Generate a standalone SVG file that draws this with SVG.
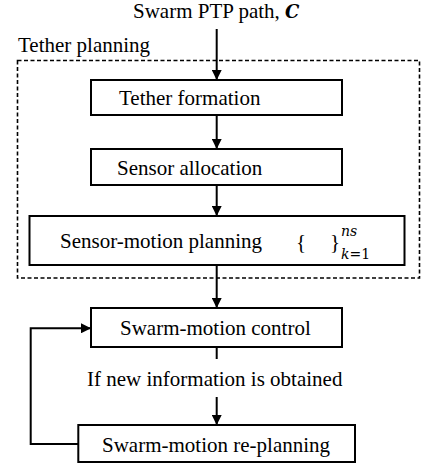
<svg xmlns="http://www.w3.org/2000/svg" width="422" height="463" viewBox="0 0 422 463" font-family="Liberation Serif, Times New Roman, serif" font-size="21">
<style>
.box{fill:#fff;stroke:#000;stroke-width:2}
.ln{fill:none;stroke:#000;stroke-width:2}
</style>
<defs>
<marker id="ah" viewBox="0 0 10 10" refX="10" refY="5" markerWidth="10" markerHeight="10" markerUnits="userSpaceOnUse" orient="auto">
<path d="M0,0L10,5L0,10Z" fill="#000"/>
</marker>
</defs>
<rect width="422" height="463" fill="#fff"/>
<g id="title"><text x="133" y="18" font-family="Liberation Serif, serif">Swarm PTP path, <tspan font-weight="bold" font-style="italic" font-family="DejaVu Serif, serif" font-size="18">C</tspan></text></g>
<g id="tether-planning">
<rect x="17.5" y="60.5" width="402" height="217.5" fill="none" stroke="#000" stroke-width="1.6" stroke-dasharray="4,2.5"/>
<text x="18" y="52" font-family="Liberation Serif, serif">Tether planning</text>
</g>
<g id="connectors">
<line class="ln" x1="216.7" y1="29" x2="216.7" y2="80" marker-end="url(#ah)"/>
<line class="ln" x1="216.7" y1="115" x2="216.7" y2="149" marker-end="url(#ah)"/>
<line class="ln" x1="216.7" y1="185" x2="216.7" y2="216" marker-end="url(#ah)"/>
<line class="ln" x1="216.7" y1="265" x2="216.7" y2="308" marker-end="url(#ah)"/>
<line class="ln" x1="216.7" y1="347" x2="216.7" y2="359"/>
<line class="ln" x1="216.7" y1="397" x2="216.7" y2="425" marker-end="url(#ah)"/>
<polyline class="ln" points="78.3,444 30.7,444 30.7,328.3 91,328.3" marker-end="url(#ah)"/>
<text x="87" y="386" font-family="Liberation Serif, serif">If new information is obtained</text>
</g>
<g id="tether-formation">
<rect class="box" x="91" y="80" width="251" height="35"/>
<text x="119" y="105" font-family="Liberation Serif, serif">Tether formation</text>
</g>
<g id="sensor-allocation">
<rect class="box" x="91" y="149" width="251" height="36"/>
<text x="117" y="175" font-family="Liberation Serif, serif">Sensor allocation</text>
</g>
<g id="sensor-motion-planning">
<rect class="box" x="29.5" y="216" width="375" height="49"/>
<text x="60" y="248" font-family="Liberation Serif, serif">Sensor-motion planning</text>
<text x="296" y="249" font-family="Liberation Serif, serif">{</text>
<text x="330" y="249" font-family="Liberation Serif, serif">}</text>
<text x="341" y="236" font-family="DejaVu Serif, serif" font-style="italic" font-size="14">ns</text>
<text x="341" y="259" font-family="DejaVu Serif, serif" font-style="italic" font-size="14">k<tspan font-style="normal">=1</tspan></text>
</g>
<g id="swarm-motion-control">
<rect class="box" x="91" y="308" width="251" height="39"/>
<text x="120" y="335" font-family="Liberation Serif, serif">Swarm-motion control</text>
</g>
<g id="swarm-motion-replanning">
<rect class="box" x="78.3" y="425" width="276.7" height="37"/>
<text x="102" y="452" font-family="Liberation Serif, serif">Swarm-motion re-planning</text>
</g>
</svg>
